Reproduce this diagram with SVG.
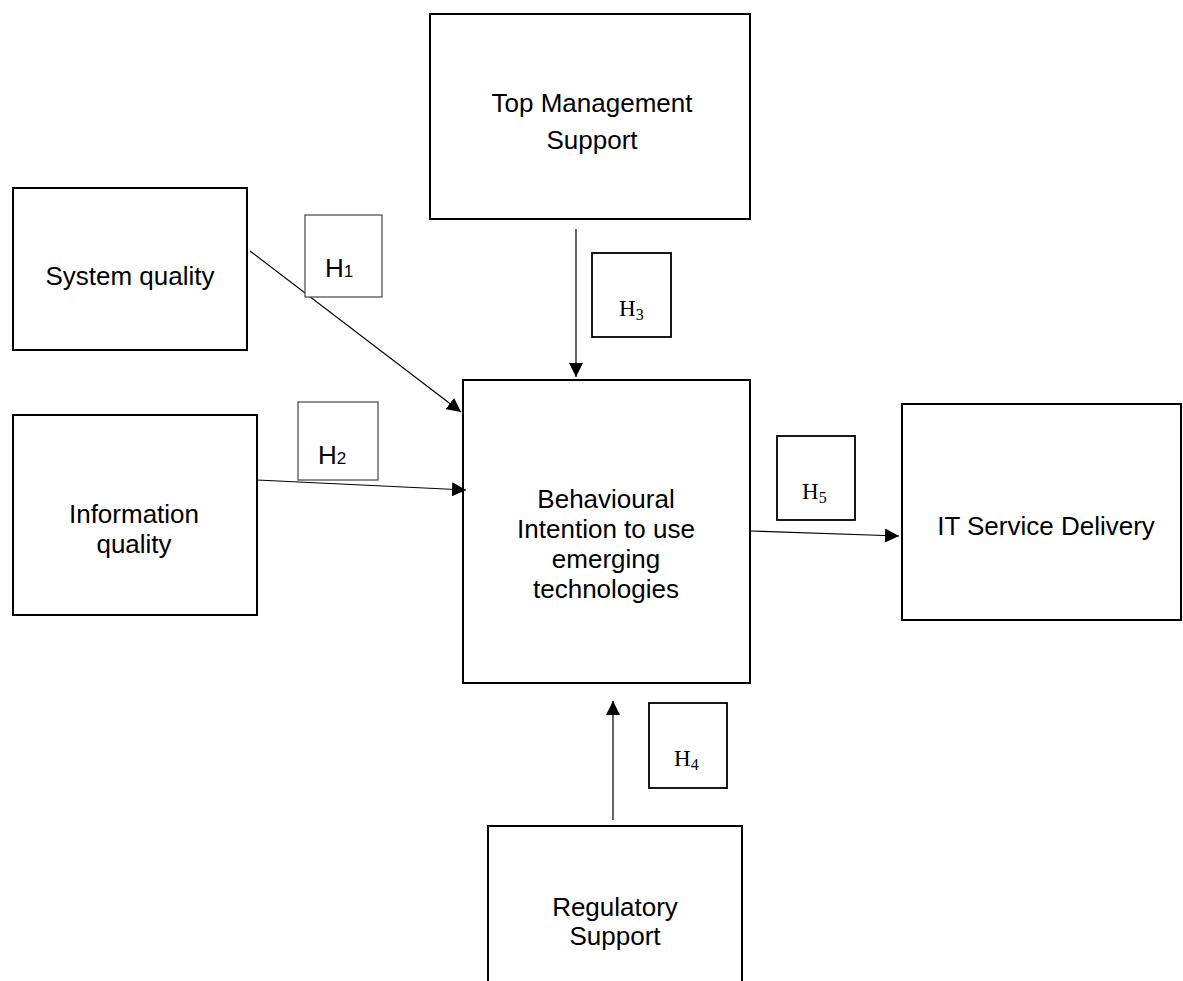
<svg xmlns="http://www.w3.org/2000/svg" width="1183" height="981" viewBox="0 0 1183 981">
<style>
.box{fill:#fff;stroke:#000;stroke-width:2}
.hs{fill:#fff;stroke:#444;stroke-width:1.2}
.hr{fill:#fff;stroke:#000;stroke-width:1.8}
.t{font-family:"Liberation Sans",Arial,sans-serif;font-size:26px;fill:#000;text-anchor:middle}
.ts{font-family:"Liberation Sans",Arial,sans-serif;font-size:26px;fill:#000}
.tr{font-family:"Liberation Serif","Times New Roman",serif;font-size:23px;fill:#000}
.c{stroke:#000;stroke-width:1.2;fill:none;marker-end:url(#ah)}
</style>
<defs>
<marker id="ah" viewBox="0 0 10 10" refX="10" refY="5" markerWidth="14" markerHeight="14" markerUnits="userSpaceOnUse" orient="auto">
<path d="M0,0 L10,5 L0,10 z" fill="#000"/>
</marker>
</defs>
<rect width="1183" height="981" fill="#fff"/>
<g id="top-management">
<rect class="box" x="430" y="14" width="320" height="205"/>
<text class="t" x="592" y="112">Top Management</text>
<text class="t" x="592" y="149">Support</text>
</g>
<g id="system-quality">
<rect class="box" x="13" y="188" width="234" height="162"/>
<text class="t" x="130" y="285">System quality</text>
</g>
<g id="information-quality">
<rect class="box" x="13" y="415" width="244" height="200"/>
<text class="t" x="134" y="523">Information</text>
<text class="t" x="134" y="553">quality</text>
</g>
<g id="behavioural-intention">
<rect class="box" x="463" y="380" width="287" height="303"/>
<text class="t" x="606" y="508">Behavioural</text>
<text class="t" x="606" y="538">Intention to use</text>
<text class="t" x="606" y="568">emerging</text>
<text class="t" x="606" y="598">technologies</text>
</g>
<g id="it-service-delivery">
<rect class="box" x="902" y="404" width="279" height="216"/>
<text class="t" x="1046" y="535">IT Service Delivery</text>
</g>
<g id="regulatory-support">
<rect class="box" x="488" y="826" width="254" height="170"/>
<text class="t" x="615" y="916">Regulatory</text>
<text class="t" x="615" y="945">Support</text>
</g>
<g id="connectors">
<line class="c" x1="250" y1="251" x2="461" y2="412"/>
<line class="c" x1="257" y1="480" x2="466" y2="490"/>
<line class="c" x1="576" y1="229" x2="576" y2="377"/>
<line class="c" x1="613" y1="820" x2="613" y2="701"/>
<line class="c" x1="750" y1="531" x2="899" y2="536"/>
</g>
<g id="h1">
<rect class="hs" x="305" y="215" width="77" height="82"/>
<text class="ts" x="325" y="277">H<tspan font-size="17">1</tspan></text>
</g>
<g id="h2">
<rect class="hs" x="298" y="402" width="80" height="78"/>
<text class="ts" x="318" y="464">H<tspan font-size="17">2</tspan></text>
</g>
<g id="h3">
<rect class="hr" x="592" y="253" width="79" height="84"/>
<text class="tr" x="619" y="316">H<tspan font-size="16" dy="4">3</tspan></text>
</g>
<g id="h4">
<rect class="hr" x="649" y="703" width="78" height="85"/>
<text class="tr" x="674" y="766">H<tspan font-size="16" dy="4">4</tspan></text>
</g>
<g id="h5">
<rect class="hr" x="777" y="436" width="78" height="84"/>
<text class="tr" x="802" y="499">H<tspan font-size="16" dy="4">5</tspan></text>
</g>
</svg>
